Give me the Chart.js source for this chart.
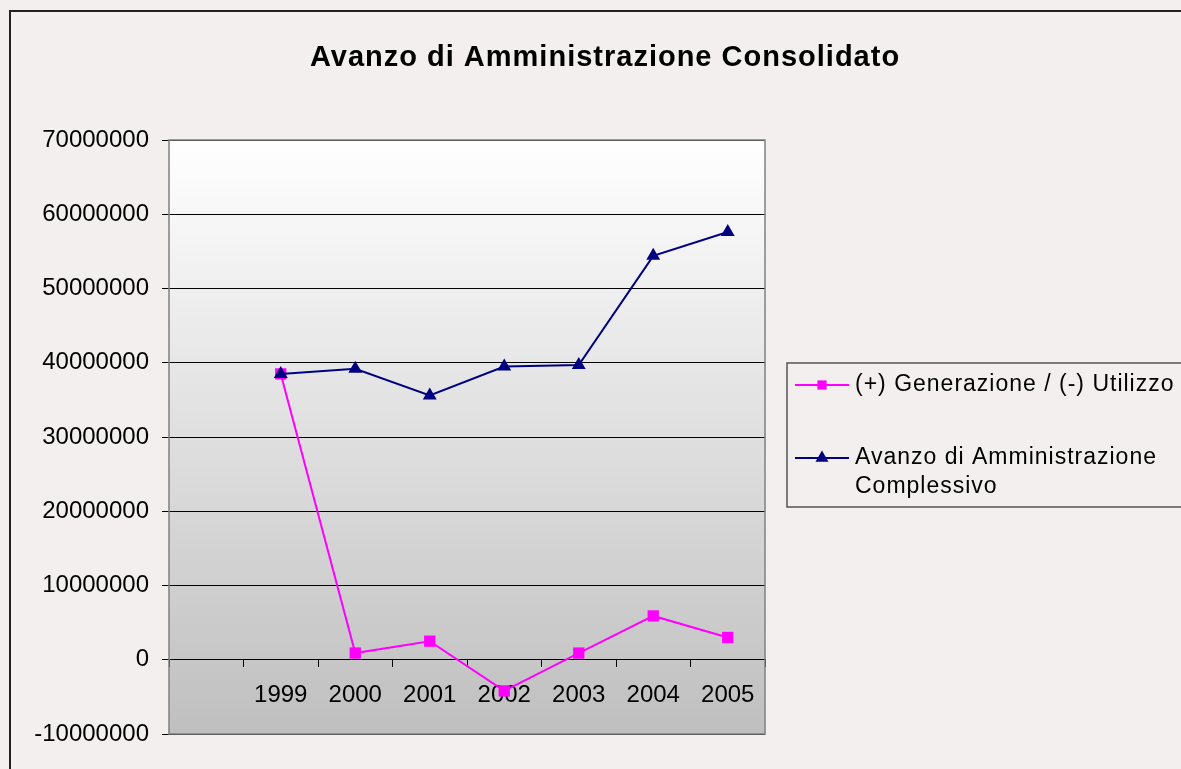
<!DOCTYPE html>
<html lang="it">
<head>
    <meta charset="UTF-8">
    <title>Avanzo di Amministrazione Consolidato</title>
    <script src="https://cdn.jsdelivr.net/npm/chart.js@4.4.1/dist/chart.umd.min.js"></script>
    <style>
        body{
            margin: 0;
            background-color: #f2efee;
        }
        #contenitore{
            width: 1181px;
            height: 769px;
        }
    </style>
</head>
<body>
<div id="contenitore"><canvas id="grafico"></canvas></div>
<script>
    // dati
    var anni = ['', '1999', '2000', '2001', '2002', '2003', '2004', '2005'];
    var generazioneUtilizzo = [null, 38500000, 900000, 2500000, -4200000, 900000, 5900000, 3000000];
    var avanzoComplessivo = [null, 38500000, 39200000, 35600000, 39500000, 39700000, 54400000, 57600000];
    var titolo = 'Avanzo di Amministrazione Consolidato';
    var etichetteLegenda = [['(+) Generazione / (-) Utilizzo'], ['Avanzo di Amministrazione', 'Complessivo']];
    var assiY = {min: -10000000, max: 70000000, passo: 10000000};

    var FONT = "'Liberation Sans', Arial, sans-serif";

    var sfondo = {
        id: 'sfondo',
        beforeDraw: function(chart) {
            var ctx = chart.ctx, a = chart.chartArea;
            ctx.save();
            ctx.fillStyle = '#f2efee';
            ctx.fillRect(0, 0, chart.width, chart.height);
            ctx.strokeStyle = '#222';
            ctx.lineWidth = 2;
            ctx.strokeRect(10, 11, chart.width + 50, chart.height + 50);
            var g = ctx.createLinearGradient(0, a.top, 0, a.bottom);
            g.addColorStop(0, '#ffffff');
            g.addColorStop(1, '#bfbfbf');
            ctx.fillStyle = g;
            ctx.fillRect(a.left, a.top, a.right - a.left, a.bottom - a.top);
            ctx.restore();
        },
        afterDraw: function(chart) {
            var ctx = chart.ctx, a = chart.chartArea;
            ctx.save();
            // bordo area del grafico
            ctx.strokeStyle = '#808080';
            ctx.lineWidth = 1.5;
            ctx.strokeRect(a.left, a.top, a.right - a.left, a.bottom - a.top);

            // titolo
            ctx.fillStyle = '#000';
            ctx.font = 'bold 29px ' + FONT;
            ctx.letterSpacing = '1px';
            ctx.textAlign = 'center';
            ctx.textBaseline = 'middle';
            ctx.fillText(titolo, 605, 58);

            // legenda
            ctx.letterSpacing = '0px';
            ctx.fillStyle = '#f2efee';
            ctx.fillRect(787, 363, 500, 144);
            ctx.strokeStyle = '#555';
            ctx.lineWidth = 1.5;
            ctx.strokeRect(787, 363, 500, 144);
            var righe = [385, 458];
            ctx.font = '23px ' + FONT;
            ctx.letterSpacing = '1px';
            ctx.textAlign = 'left';
            chart.data.datasets.forEach(function(ds, i) {
                var y = righe[i];
                ctx.strokeStyle = ds.borderColor;
                ctx.lineWidth = 2;
                ctx.beginPath();
                ctx.moveTo(795, y);
                ctx.lineTo(849, y);
                ctx.stroke();
                ctx.fillStyle = ds.backgroundColor;
                Chart.helpers.drawPoint(ctx, {
                    pointStyle: ds.pointStyle,
                    radius: ds.legendRadius,
                    borderWidth: 0,
                    rotation: 0
                }, 822, y);
                ctx.fillStyle = '#000';
                etichetteLegenda[i].forEach(function(t, k) {
                    ctx.fillText(t, 855, y + k * 29);
                });
            });
            ctx.restore();
        }
    };

    var ctx = document.getElementById('grafico').getContext('2d');
    var grafico = new Chart(ctx, {
        type: 'line',
        data: {
            labels: anni,
            datasets: [{
                label: etichetteLegenda[0].join(' '),
                data: generazioneUtilizzo,
                borderColor: '#ff00ff',
                backgroundColor: '#ff00ff',
                borderWidth: 2,
                pointStyle: 'rect',
                pointRadius: 8,
                pointBorderWidth: 0,
                legendRadius: 6.5,
                order: 1
            }, {
                label: etichetteLegenda[1].join(' '),
                data: avanzoComplessivo,
                borderColor: '#000080',
                backgroundColor: '#000080',
                borderWidth: 2,
                pointStyle: 'triangle',
                pointRadius: 8,
                pointBorderWidth: 0,
                legendRadius: 7.5,
                order: 0
            }]
        },
        options: {
            responsive: true,
            maintainAspectRatio: false,
            animation: false,
            events: [],
            layout: {
                padding: {left: 0, top: 140, right: 416, bottom: 35}
            },
            scales: {
                y: {
                    min: assiY.min,
                    max: assiY.max,
                    ticks: {
                        stepSize: assiY.passo,
                        color: '#000',
                        padding: 13,
                        font: {family: FONT, size: 24},
                        callback: function(v) { return String(v); }
                    },
                    grid: {color: '#000', lineWidth: 1, tickLength: 7},
                    border: {display: false},
                    afterFit: function(s) { s.width = 169; }
                },
                x: {
                    position: {y: 0},
                    offset: true,
                    ticks: {
                        color: '#000',
                        padding: 14,
                        autoSkip: false,
                        maxRotation: 0,
                        font: {family: FONT, size: 24}
                    },
                    grid: {offset: true, drawOnChartArea: false, color: '#000', tickLength: 7},
                    border: {display: true, color: '#000'},
                    afterFit: function(s) { s.height = 0; }
                }
            },
            plugins: {
                legend: {display: false},
                tooltip: {enabled: false}
            }
        },
        plugins: [sfondo]
    });
</script>
</body>
</html>
